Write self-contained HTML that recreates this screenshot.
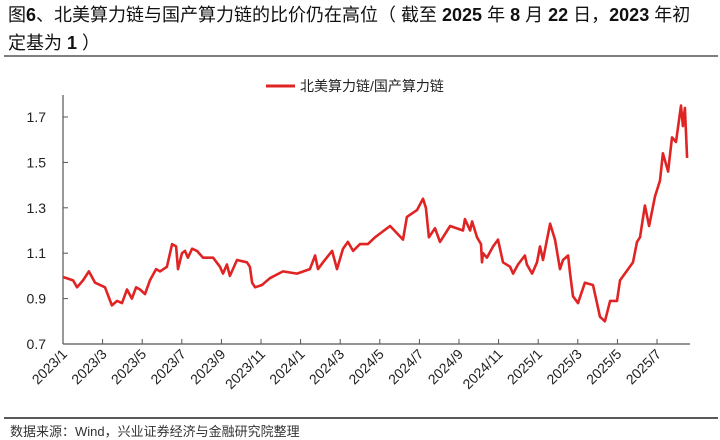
<!DOCTYPE html>
<html><head><meta charset="utf-8"><style>
html,body{margin:0;padding:0;background:#fff;}
body{width:720px;height:440px;position:relative;overflow:hidden;font-family:"Liberation Sans","Noto Sans CJK SC",sans-serif;}
#title{position:absolute;left:8px;top:1px;width:712px;font-size:18px;line-height:28px;color:#111;white-space:nowrap;}
#title b{font-weight:bold;}
</style></head><body>
<div id="title">图<b>6</b>、北美算力链与国产算力链的比价仍在高位（ 截至 <b>2025</b> 年 <b>8</b> 月 <b>22</b> 日，<b>2023</b> 年初<br>定基为 <b>1</b> ）</div>
<svg id="chart" width="720" height="440" style="position:absolute;left:0;top:0">
<line x1="4" y1="56" x2="718" y2="56" stroke="#333" stroke-width="1.2"/>
<line x1="4" y1="418" x2="718" y2="418" stroke="#222" stroke-width="1.5"/>
<text x="10" y="436" font-size="13" fill="#333">数据来源：Wind，兴业证券经济与金融研究院整理</text>
<g>
<line x1="266" y1="86" x2="295" y2="86" stroke="#e02424" stroke-width="3"/>
<text x="300" y="91" font-size="14" fill="#222">北美算力链/国产算力链</text>
</g>
<g id="axes"></g>
<g id="series"></g>
</svg>
<script>
const months=[0,0.51,0.71,1.01,1.31,1.62,2.12,2.47,2.73,2.98,3.23,3.48,3.69,3.89,4.14,4.39,4.70,4.90,5.25,5.51,5.71,5.81,6.01,6.16,6.31,6.52,6.77,7.07,7.58,7.93,8.08,8.28,8.43,8.79,9.29,9.44,9.55,9.70,10.05,10.45,11.11,11.82,12.47,12.73,12.88,13.13,13.59,13.84,14.14,14.39,14.65,15.00,15.40,15.76,16.52,17.17,17.37,17.88,18.18,18.33,18.48,18.79,19.04,19.55,20.20,20.30,20.56,20.66,20.91,21.11,21.16,21.21,21.41,21.72,21.97,22.22,22.58,22.73,22.98,23.33,23.43,23.69,23.94,24.09,24.24,24.60,24.85,25.10,25.25,25.51,25.61,25.76,26.01,26.36,26.77,27.12,27.37,27.63,27.98,28.13,28.54,28.79,28.99,29.14,29.39,29.60,29.90,30.15,30.30,30.56,30.76,30.96,31.21,31.31,31.41,31.52];
const ratio=[0.995,0.98,0.95,0.98,1.02,0.97,0.95,0.87,0.89,0.88,0.94,0.90,0.95,0.94,0.92,0.98,1.03,1.02,1.04,1.14,1.13,1.03,1.10,1.11,1.08,1.12,1.11,1.08,1.08,1.04,1.01,1.05,1.00,1.07,1.06,1.04,0.97,0.95,0.96,0.99,1.02,1.01,1.03,1.09,1.03,1.06,1.11,1.03,1.12,1.15,1.11,1.14,1.14,1.17,1.22,1.16,1.26,1.29,1.34,1.30,1.17,1.21,1.15,1.22,1.20,1.25,1.20,1.24,1.17,1.14,1.06,1.10,1.08,1.13,1.16,1.06,1.04,1.01,1.05,1.09,1.05,1.01,1.06,1.13,1.07,1.23,1.16,1.03,1.07,1.09,1.01,0.91,0.88,0.97,0.96,0.82,0.80,0.89,0.89,0.98,1.03,1.06,1.15,1.17,1.31,1.22,1.35,1.42,1.54,1.46,1.61,1.59,1.75,1.66,1.74,1.52];
const yTicks=[0.7,0.9,1.1,1.3,1.5,1.7];
const xLabels=["2023/1","2023/3","2023/5","2023/7","2023/9","2023/11","2024/1","2024/3","2024/5","2024/7","2024/9","2024/11","2025/1","2025/3","2025/5","2025/7"];
const NS="http://www.w3.org/2000/svg";
const xS=m=>63+m*19.8;
const yS=v=>344-(v-0.7)*227;
const ax=document.getElementById('axes');
function mk(t,a,p){const e=document.createElementNS(NS,t);for(const k in a)e.setAttribute(k,a[k]);p.appendChild(e);return e;}
const yl=mk('line',{x1:63,y1:95,x2:63,y2:344,stroke:'#555','stroke-width':1.2},ax);


const xl=mk('line',{x1:63,y1:344,x2:690,y2:344,stroke:'#555','stroke-width':1.2},ax);


yTicks.forEach(v=>{
 const t=mk('line',{x1:63,y1:yS(v),x2:68,y2:yS(v),stroke:'#555'},ax);
 
 
 const l=mk('text',{x:46,y:yS(v)+5,'font-size':14,'text-anchor':'end',fill:'#222'},ax);
 l.textContent=v.toFixed(1);
 
 
});
xLabels.forEach((s,i)=>{
 const x=xS(i*2);
 if(i>0){const t=mk('line',{x1:x,y1:344,x2:x,y2:339,stroke:'#555'},ax);
 
 }
 const l=mk('text',{x:x+5,y:355,'font-size':14,'text-anchor':'end',fill:'#222',transform:`rotate(-45 ${x+5} 355)`},ax);
 l.textContent=s;
 
 
});
const d=months.map((m,i)=>(i?'L':'M')+xS(m).toFixed(1)+' '+yS(ratio[i]).toFixed(1)).join(' ');
const p=mk('path',{d:d,fill:'none',stroke:'#e02424','stroke-width':2.6,'stroke-linejoin':'round'},document.getElementById('series'));


</script>
</body></html>
